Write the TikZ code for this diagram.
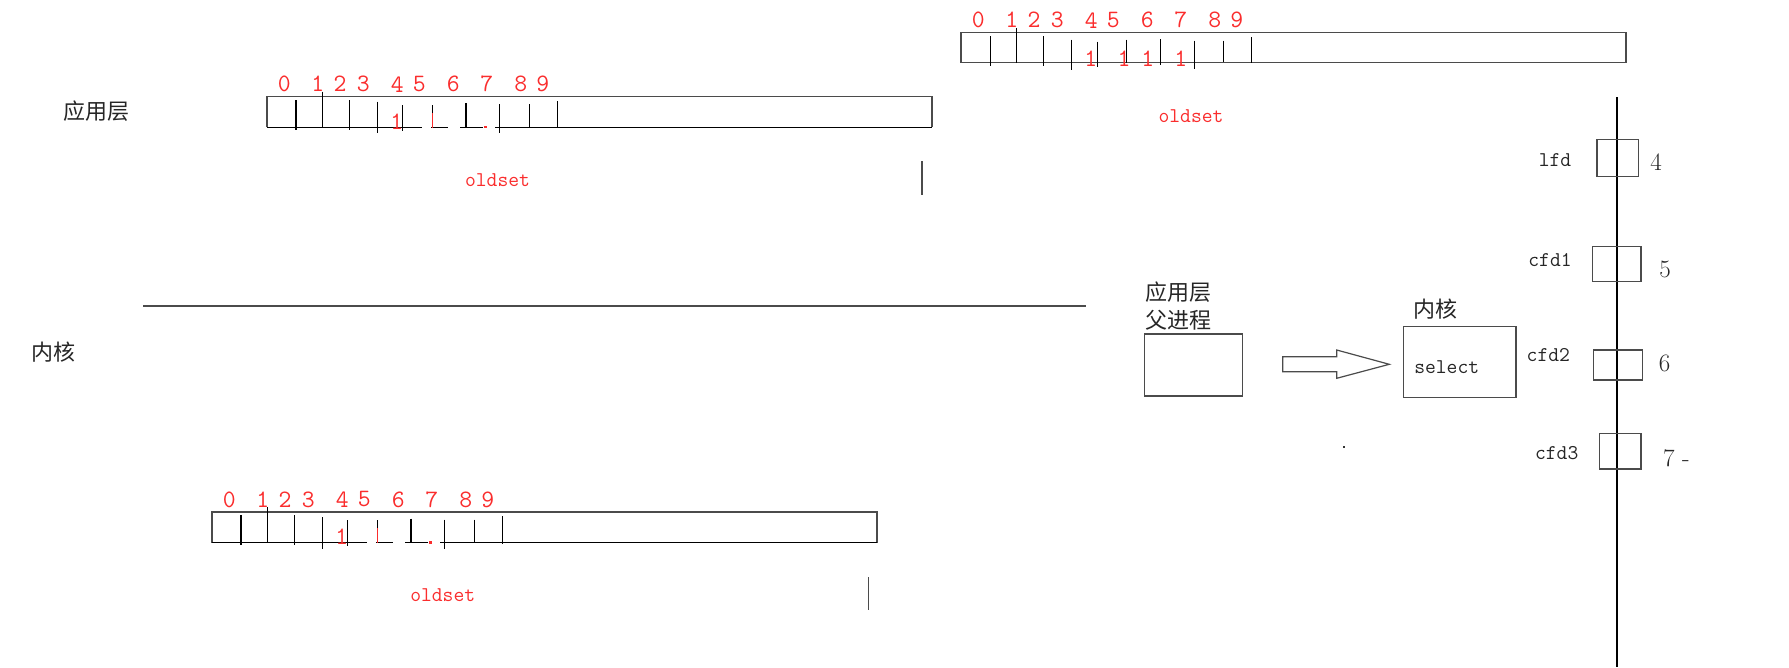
\documentclass[tikz,border=0pt]{standalone}
\usepackage{fontspec}
\newfontfamily\cjk{Noto Sans CJK SC}
\definecolor{lblred}{RGB}{250,45,45}
\definecolor{boxgray}{RGB}{75,75,75}
\newcommand\digitlabels[1]{%
  \foreach \xx [count=\ii from 0] in {17.3,50.7,73,96.3,130.3,152.3,186.3,219.7,253.7,275.7}
    \node[digit] (#1d\ii) at (\xx,-12.5) {\ii};}
\newcommand\brokenarray[3]{%
\begin{scope}[shift={(#2,#3)}]
  \draw[frame] (0,30.6) -- (0,0) -- (665,0) -- (665,30.6);
  \draw[tick] (0,30.6) -- (154.7,30.6);
  \draw[tick] (164,30.6) -- (181.3,30.6);
  \draw[tick] (193,30.6) -- (216.3,30.6);
  \draw[tick] (228,30.6) -- (665,30.6);
  \foreach \xx/\ya/\yb in {29/3.3/33.3,55.3/-5/30.6,82.3/3.3/33.3,110.3/5/36.6,135.7/8.3/34.3,199/6.6/31.3,232.3/7.6/36.6,262.3/7.6/30.6,290.7/4.3/31.6}
    \draw[tick] (\xx,\ya) -- (\xx,\yb);
  \draw[tick] (165.3,8.3) -- (165.3,16.3);
  \draw[tick,draw=lblred] (165.3,16.3) -- (165.3,31);
  \fill[lblred] (217,29.3) rectangle (219.5,31.6);
  \node[digit] (#1one) at (129.7,25) {1};
  \digitlabels{#1}
\end{scope}}
\begin{document}
\begin{tikzpicture}[x=1pt,y=-1pt,
  frame/.style={draw=boxgray, line width=1.4pt},
  tick/.style={draw=black, line width=1.1pt},
  digit/.style={text=lblred, font=\ttfamily\fontsize{25}{25}\selectfont, inner sep=0},
  redtxt/.style={text=lblred, font=\ttfamily\fontsize{21}{21}\selectfont, inner sep=0},
  blk/.style={text=black!85, font=\ttfamily\fontsize{21}{21}\selectfont, inner sep=0},
  num/.style={text=black!85, font=\rmfamily\fontsize{25}{25}\selectfont, inner sep=0},
  cn/.style={text=black!85, font=\cjk\fontsize{22}{22}\selectfont, inner sep=0},
  fdbox/.style={draw=boxgray, line width=1.4pt, inner sep=0}
]
\path[use as bounding box] (0,0) rectangle (1789,667);

% left labels and divider
\node[cn] (app) at (96.7,110.7) {应用层};
\node[cn] (kern) at (53.3,351.7) {内核};
\coordinate (sepL) at (143,306);
\coordinate (sepR) at (1086,306);
\draw[frame, line width=1.3pt] (sepL) -- (sepR);

% array 1 (user space)
\brokenarray{a}{267}{96.7}
\node[redtxt] (old1) at (497.5,180.3) {oldset};
\coordinate (m1a) at (922,161);
\coordinate (m1b) at (922,195);
\draw[frame] (m1a) -- (m1b);

% array 3 (kernel)
\brokenarray{c}{212}{512}
\node[redtxt] (old3) at (442.7,595.6) {oldset};
\coordinate (m3a) at (868.3,577);
\coordinate (m3b) at (868.3,610);
\draw[frame] (m3a) -- (m3b);

% array 2 (top right)
\begin{scope}[shift={(961,32.7)}]
  \draw[frame] (0,0) rectangle (665,29.6);
  \foreach \xx/\ya/\yb in {29.7/3.3/33.3,55.7/-4.4/30.6,82.3/3.3/33.3,110.7/7/37,136.3/9/34.6,165.7/7/30.3,199.7/6.3/32,233.3/8/36,262.3/8/29.6,290.7/4.6/30.3}
    \draw[tick] (\xx,\ya) -- (\xx,\yb);
  \foreach \xx [count=\jj] in {129.7,163,186.7,219.7}
    \node[digit] (bone\jj) at (\xx,25.6) {1};
  \digitlabels{b}
\end{scope}
\node[redtxt] (old2) at (1191,116.4) {oldset};

% parent process and select
\node[cn, align=left, anchor=west] (apptxt) at (1145,291.7) {应用层};
\node[cn, align=left, anchor=west] (partxt) at (1145,320) {父进程};
\node[frame, inner sep=0, minimum width=98.4pt, minimum height=62pt] (par) at (1193.5,365) {};
\node[frame, inner sep=0, minimum width=112.7pt, minimum height=70.6pt] (sel) at (1459.7,362) {};
\node[cn] (kern2) at (1435,309.3) {内核};
\node[blk] (seltxt) at (1446.7,366.7) {select};
\draw[frame, line width=1.2pt, line join=miter]
  (1282.7,356.7) -- (1336.7,356.7) -- (1336.7,350) -- (1389.3,364.3)
  -- (1336.7,378.3) -- (1336.7,371.7) -- (1282.7,371.7) -- cycle;
\node[fill=black!80, inner sep=0, minimum size=2.5pt] (dot) at (1344,447) {};

% fd column
\coordinate (vtop) at (1617,97);
\coordinate (vbot) at (1617,667);
\draw[tick] (vtop) -- (vbot);
\node[fdbox, minimum width=41.7pt, minimum height=37.4pt] (f1) at (1617.9,158) {};
\node[fdbox, minimum width=48.7pt, minimum height=34.6pt] (f2) at (1616.7,264) {};
\node[fdbox, minimum width=48.6pt, minimum height=30pt] (f3) at (1618,365) {};
\node[fdbox, minimum width=41.7pt, minimum height=35.7pt] (f4) at (1620.2,451.2) {};
\node[blk] (l1) at (1555,160) {lfd};
\node[blk] (l2) at (1550,260) {cfd1};
\node[blk] (l3) at (1548.3,355) {cfd2};
\node[blk] (l4) at (1556.7,453.3) {cfd3};
\node[num] (n1) at (1656,161.7) {4};
\node[num] (n2) at (1665,269) {5};
\node[num] (n3) at (1664.5,363.3) {6};
\node[num, anchor=west] (n4) at (1663,458.3) {7 -};
\end{tikzpicture}
\end{document}
